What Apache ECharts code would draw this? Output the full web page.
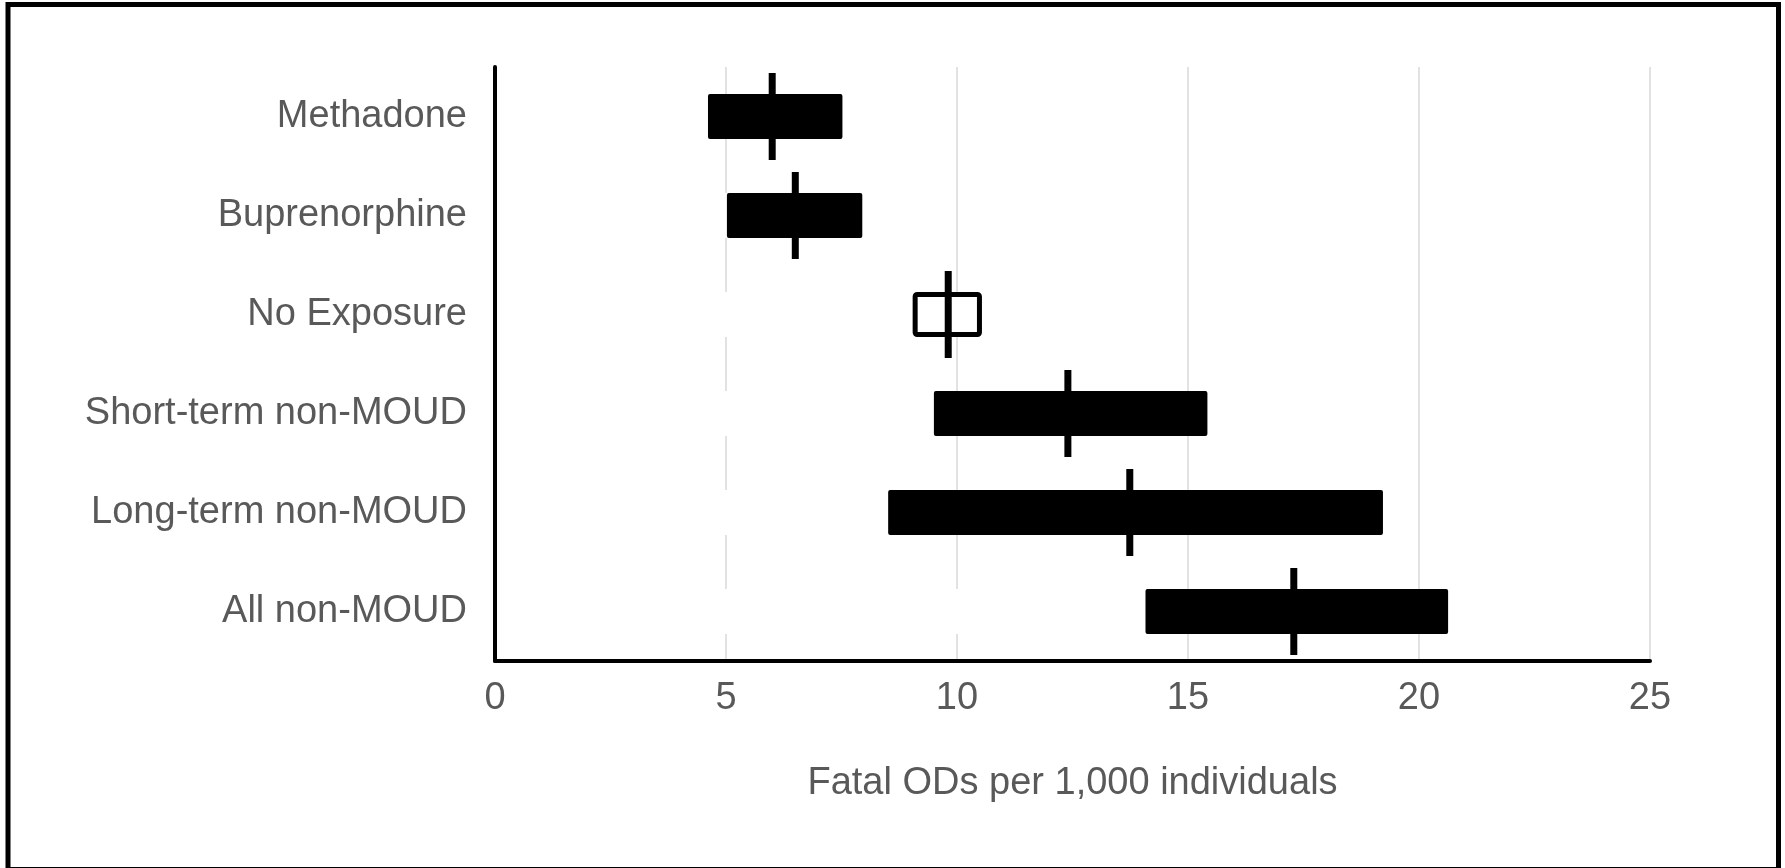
<!DOCTYPE html>
<html>
<head>
<meta charset="utf-8">
<script src="https://cdn.jsdelivr.net/npm/echarts@6/dist/echarts.min.js"></script>
<style>
  html, body { margin: 0; padding: 0; background: #fff; }
  #chart { width: 1785px; height: 868px; }
</style>
</head>
<body>
<div id="chart"></div>
<script>
// groups, top to bottom
const categories = [
  "Methadone",
  "Buprenorphine",
  "No Exposure",
  "Short-term non-MOUD",
  "Long-term non-MOUD",
  "All non-MOUD",
];
// interval ends and point estimate, fatal ODs per 1,000
const lowValues = [4.61, 5.02, 9.04, 9.5, 8.51, 14.08];
const highValues = [7.52, 7.95, 10.54, 15.42, 19.22, 20.63];
const pointValues = [6.0, 6.5, 9.81, 12.4, 13.74, 17.29];
const xMin = 0, xMax = 25, xStep = 5;

const chart = echarts.init(document.getElementById("chart"));

const font = "'Liberation Sans', Arial, Helvetica, sans-serif";
const textGray = "#595959";

const rangeData = highValues.map((h, i) => {
  const v = +(h - lowValues[i]).toFixed(2);
  if (categories[i] === "No Exposure") {
    return {
      value: v,
      itemStyle: { color: "#fff", borderColor: "#000", borderWidth: 5, borderRadius: 2 },
    };
  }
  return v;
});

chart.setOption({
  animation: false,
  graphic: [
    {
      type: "rect",
      shape: { x: 8, y: 4.5, width: 1770.5, height: 865 },
      style: { fill: "none", stroke: "#000", lineWidth: 5 },
      silent: true,
    },
  ],
  grid: { left: 495, right: 135, top: 67, bottom: 207 },
  xAxis: {
    type: "value",
    min: xMin,
    max: xMax,
    interval: xStep,
    name: "Fatal ODs per 1,000 individuals",
    nameLocation: "middle",
    nameGap: 104,
    nameTextStyle: { color: textGray, fontSize: 38, fontFamily: font },
    axisLine: { show: true, lineStyle: { color: "#000", width: 4 } },
    axisTick: { show: false },
    axisLabel: { color: textGray, fontSize: 38, fontFamily: font, margin: 19 },
    splitLine: { show: true, lineStyle: { color: "#d9d9d9", width: 1.5 } },
  },
  yAxis: {
    type: "category",
    inverse: true,
    data: categories,
    z: 5,
    axisLine: { show: true, lineStyle: { color: "#000", width: 4 } },
    axisTick: { show: false },
    axisLabel: { color: textGray, fontSize: 38, fontFamily: font, margin: 28 },
    splitLine: { show: false },
  },
  series: [
    {
      name: "base",
      type: "bar",
      stack: "ci",
      barWidth: "45.5%",
      itemStyle: { color: "#fff" },
      silent: true,
      data: lowValues,
    },
    {
      name: "interval",
      type: "bar",
      stack: "ci",
      barWidth: "45.5%",
      itemStyle: { color: "#000", borderRadius: 2 },
      data: rangeData,
    },
    {
      name: "estimate",
      type: "scatter",
      symbol: "rect",
      symbolSize: [7, 87],
      itemStyle: { color: "#000", opacity: 1 },
      z: 4,
      data: pointValues.map((v, i) => [v, i]),
    },
  ],
});
</script>
</body>
</html>
